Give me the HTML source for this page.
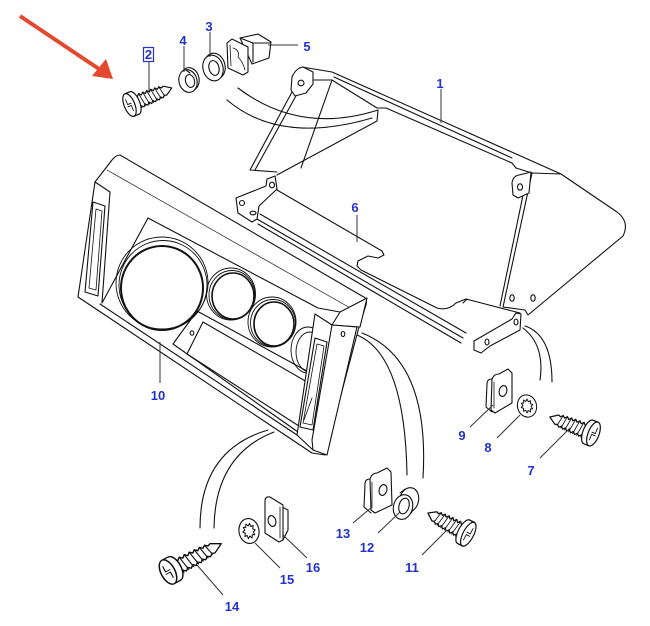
<!DOCTYPE html>
<html><head><meta charset="utf-8">
<style>
html,body{margin:0;padding:0;background:#fff;width:650px;height:626px;overflow:hidden}
svg{display:block}
.lb{font-family:"Liberation Sans",Arial,sans-serif;font-weight:bold;font-size:13px;fill:#2233cc;text-anchor:middle}
</style></head><body>
<svg width="650" height="626" viewBox="0 0 650 626" xmlns="http://www.w3.org/2000/svg">
<defs>
<g id="screw">
  <path d="M5,-4.5 L35,-3.5 L43,0 L35,3.5 L5,4.5 Z" fill="#fff" stroke="none"/>
  <path d="M6,-4.6 L8,-6.6 L10,-4.5 L12,-6.5 L14,-4.4 L16,-6.4 L18,-4.3 L20,-6.3 L22,-4.2 L24,-6.1 L26,-4 L28,-5.8 L30,-3.8 L32,-5.4 L34,-3.5 L36,-4.4 L43,0 L36,4.4 L34,3.5 L32,5.4 L30,3.8 L28,5.8 L26,4 L24,6.1 L22,4.2 L20,6.3 L18,4.3 L16,6.4 L14,4.4 L12,6.5 L10,4.5 L8,6.6 L6,4.6" fill="#fff"/>
  <path d="M8,-6.6 L10,6.5 M12,-6.5 L14,6.4 M16,-6.4 L18,6.3 M20,-6.3 L22,6.1 M24,-6.1 L26,5.8 M28,-5.8 L30,5.4 M32,-5.4 L34,4.4" stroke-width="0.8"/>
  <path d="M0,-11 L5,-11 A5,11 0 0 1 5,11 L0,11" fill="#fff"/>
  <ellipse cx="0" cy="0" rx="5" ry="11" fill="#fff"/>
  <path d="M-1.5,-6 L-1.5,-1 L2,-1 M1.5,6 L1.5,1 L-2,1" stroke-width="0.8"/>
</g>
<g id="star">
  <ellipse cx="0" cy="0" rx="10" ry="12.5" fill="#fff"/>
  <polygon transform="scale(1.05,1.3)" points="6,0 3.8,1.24 4.85,3.53 2.35,3.24 1.85,5.71 0,4 -1.85,5.71 -2.35,3.24 -4.85,3.53 -3.8,1.24 -6,0 -3.8,-1.24 -4.85,-3.53 -2.35,-3.24 -1.85,-5.71 0,-4 1.85,-5.71 2.35,-3.24 4.85,-3.53 3.8,-1.24" stroke-width="0.9"/>
</g>
</defs>

<!-- red arrow -->
<line x1="20" y1="16" x2="99" y2="69" stroke="#e2492f" stroke-width="4"/>
<polygon points="113,79 92,76 106,59" fill="#e2492f"/>

<g fill="none" stroke="#111" stroke-width="1.1" stroke-linejoin="round" stroke-linecap="round">

<!-- ===== bracket 1 ===== -->
<path d="M532,173 L561,174 L617,212 Q630,222 623,236 L528,315 L525,310 L503,307 Z" fill="#fff"/>
<path d="M527,176 L500,306"/>
<path d="M302,67 L332,72 L561,174"/>
<path d="M334,77 L512,158"/>
<path d="M312,80 L332,80 L377,108 L386,108 L512,163 L516,168 L532,173"/>
<path d="M513,195 L512,183 Q513,176 519,175 L531,172 L529,193 L518,198 Z" fill="#fff"/>
<ellipse cx="520" cy="187" rx="2.5" ry="3.2"/>
<ellipse cx="512" cy="298" rx="2.2" ry="3.2"/>
<ellipse cx="533" cy="298" rx="2.2" ry="3.2"/>
<path d="M292,92 L250,170 L277,172"/>
<path d="M297,94 L255,170"/>
<path d="M332,80 L301,168"/>
<path d="M277,175 L377,121 L378,110"/>
<path d="M292,77 Q296,68 303,67 L313,72 L313,84 L306,93 L295,96 L291,90 Z" fill="#fff"/>
<ellipse cx="301" cy="83" rx="3" ry="2.8"/>

<!-- arcs screw 2 -> bracket -->
<path d="M238,88 Q300,135 378,110"/>
<path d="M227,100 Q280,145 372,118"/>

<!-- ===== bracket 6 ===== -->
<path d="M236,198 L266,186 L267,179 L275,176 L277,189 L259,206 L257,219 L252,222 L238,213 Z" fill="#fff"/>
<ellipse cx="242" cy="203" rx="2.5" ry="2.5"/>
<ellipse cx="272" cy="185" rx="2.5" ry="2.8"/>
<ellipse cx="253" cy="213" rx="3" ry="1.8"/>
<path d="M277,190 L382,251 L384,255 L378,258 L368,256 L358,261 L357,266 L361,270 L437,308 Q448,311 456,303 L466,299 L520,313"/>
<path d="M260,214 L466,333"/>
<path d="M257,219 L463,338"/>
<path d="M258,224 L461,343"/>
<path d="M463,303 L467,299"/>
<path d="M474,341 L512,319 L516,313 L521,314 L520,330 L490,346 L481,353 L474,350 Z" fill="#fff"/>
<ellipse cx="516" cy="322" rx="2" ry="3"/>
<ellipse cx="487" cy="342" rx="2" ry="3"/>

<!-- arcs behind panel / to small parts -->
<path d="M268,430 Q200,450 200,528"/>
<path d="M274,432 Q215,455 214,528"/>
<path d="M357,335 Q405,355 407,475"/>
<path d="M362,333 Q430,360 423,478"/>
<path d="M523,328 Q545,345 540,380"/>
<path d="M525,326 Q552,335 552,382"/>

<!-- ===== panel 10 ===== -->
<path d="M120,155 Q116,155 112,160 L95,182 L78,297 L312,453 L325,455 L359,327 L366,305 Q368,298 362,296 Z" fill="#fff"/>
<path d="M95,182 L110,192 L102,303"/>
<path d="M107,170 L352,309" stroke-width="0.7"/>
<path d="M102,303 L148,218 L318,308 L340,312"/>
<path d="M100,304 L297,435"/>
<path d="M93,202 L105,206 L98,296 L85,292 Z"/>
<path d="M96,209 L102,211 L96,290 L89,288 Z" stroke-width="0.8"/>

<!-- gauges -->
<ellipse cx="162" cy="283" rx="46" ry="46" stroke-width="0.9"/>
<ellipse cx="163" cy="285" rx="44" ry="44.5" stroke-width="0.9"/>
<ellipse cx="162" cy="288" rx="41" ry="42" stroke-width="2"/>
<ellipse cx="231" cy="294" rx="24.5" ry="26" stroke-width="0.9"/>
<ellipse cx="232" cy="295" rx="23" ry="24.5" stroke-width="0.9"/>
<ellipse cx="233" cy="296" rx="21" ry="23" stroke-width="1.6"/>
<ellipse cx="272" cy="322" rx="24" ry="25" stroke-width="0.9"/>
<ellipse cx="273" cy="323" rx="22.5" ry="23.5" stroke-width="0.9"/>
<ellipse cx="274" cy="324" rx="20" ry="22" stroke-width="1.6"/>
<ellipse cx="308" cy="350" rx="17" ry="23" stroke-width="0.9"/>
<ellipse cx="310" cy="352" rx="14" ry="20" stroke-width="0.9"/>

<!-- tray -->
<path d="M197,311 L173,344 L298,432" fill="none"/>
<path d="M197,311 L316,376"/>
<path d="M203,322 L187,354 L302,428"/>
<path d="M203,322 L314,386"/>
<ellipse cx="192" cy="333" rx="1.8" ry="2.2"/>

<!-- right end -->
<path d="M340,312 L367,298 L360,327 L332,325 Z" fill="#fff"/>
<path d="M315,314 L332,325 L357,327 L327,455 L313,450 L297,435 Z" fill="#fff"/>
<path d="M332,325 L312,440 L313,450"/>
<path d="M315,338 L327,342 L313,430 L300,427 Z"/>
<path d="M317,344 L324,346 L312,425 L303,423 Z" stroke-width="0.8"/>
<path d="M312,398 L304,420" stroke-width="0.8"/>
<ellipse cx="343" cy="334" rx="1.8" ry="2.5"/>

<!-- ===== small parts top ===== -->
<use href="#screw" transform="translate(129.5,105) rotate(-22) scale(1.06,1.1)"/>
<!-- washer 4 -->
<ellipse cx="190" cy="79" rx="9" ry="11.5" fill="#fff" transform="rotate(-15 190 79)"/>
<ellipse cx="188" cy="81" rx="9" ry="11.5" fill="#fff" transform="rotate(-15 188 81)"/>
<ellipse cx="190" cy="81" rx="4.5" ry="6.5" transform="rotate(-15 190 81)"/>
<path d="M186,70 L190,73"/>
<!-- washer 3 -->
<ellipse cx="215" cy="66" rx="10" ry="13" fill="#fff" transform="rotate(-15 215 66)"/>
<ellipse cx="213" cy="68" rx="10" ry="13" fill="#fff" transform="rotate(-15 213 68)"/>
<ellipse cx="214" cy="68" rx="5" ry="7.5" transform="rotate(-15 214 68)"/>
<!-- part 5 -->
<path d="M240,38 L258,34 L271,42 L269,58 L252,64 Z" fill="#fff"/>
<path d="M240,38 L253,43 L270,43 M253,43 L253,62"/>
<path d="M227,43 L232,39 L248,47 L248,72 L243,75 L228,68 Z" fill="#fff"/>
<path d="M230,45 L231,66 M233,48 Q240,50 238,57 Q243,62 245,70" stroke-width="0.8"/>

<!-- ===== small parts bottom right ===== -->
<!-- clip 9 -->
<path d="M492,379 Q494,374 499,374 L508,369 L512,373 L512,403 L495,413 L491,410 Z" fill="#fff"/>
<path d="M492,379 Q487,379 487,384 L486,407 L492,412"/>
<path d="M494,382 L494,408" stroke-width="0.8"/>
<ellipse cx="503" cy="391" rx="3.8" ry="5.5" transform="rotate(15 503 391)"/>
<use href="#star" transform="translate(527,406) rotate(-15) scale(0.95,0.9)"/>
<use href="#screw" transform="translate(593.5,434) scale(-1,1) rotate(-21.3) scale(1.09,1.15)"/>

<!-- clip 13 -->
<path d="M370,479 Q372,473 377,473 L387,468 L391,472 L392,505 L375,513 L371,510 Z" fill="#fff"/>
<path d="M370,479 Q365,479 365,484 L364,507 L371,513"/>
<path d="M372,482 L372,508" stroke-width="0.8"/>
<ellipse cx="383" cy="490" rx="3.8" ry="5.5" transform="rotate(15 383 490)"/>
<!-- washer 12 -->
<ellipse cx="409" cy="500" rx="9.5" ry="12.5" fill="#fff" transform="rotate(15 409 500)"/>
<path d="M400,493 L405,489 M405,519 L412,512" stroke-width="0.9"/>
<ellipse cx="403" cy="507" rx="9.5" ry="12.5" fill="#fff" transform="rotate(15 403 507)"/>
<ellipse cx="404" cy="506" rx="5" ry="8" transform="rotate(15 404 506)"/>
<use href="#screw" transform="translate(468.3,534.2) scale(-1,1) rotate(-27.7) scale(1.06,1.2)"/>

<!-- clip 16 -->
<path d="M282,507 L288,510 L288,530 L283,540" />
<path d="M265,500 Q266,496 270,497 L283,505 L283,540 L279,542 L265,533 Z" fill="#fff"/>
<path d="M280,507 L280,538" stroke-width="0.8"/>
<ellipse cx="272" cy="521" rx="3.8" ry="5.5" transform="rotate(-15 272 521)"/>
<use href="#star" transform="translate(249,531) rotate(-10) scale(1,1)"/>
<use href="#screw" transform="translate(168,572) rotate(-28) scale(1.4,1.2)"/>
</g>

<!-- leaders -->
<g stroke="#333" stroke-width="1" fill="none">
<path d="M149,62 L149,92"/>
<path d="M184,46 L184,72"/>
<path d="M210,32 L210,57"/>
<path d="M268,45 L298,45"/>
<path d="M441,89 L441,123"/>
<path d="M357,215 L357,242"/>
<path d="M160,342 L160,383"/>
<path d="M470,427 L493,405"/>
<path d="M497,438 L520,415"/>
<path d="M540,458 L570,428"/>
<path d="M353,523 L372,507"/>
<path d="M378,533 L400,512"/>
<path d="M422,555 L447,530"/>
<path d="M307,558 L283,535"/>
<path d="M280,568 L255,543"/>
<path d="M223,595 L197,565"/>
</g>

<!-- labels -->
<rect x="143.5" y="47.5" width="10" height="14" fill="none" stroke="#2233cc" stroke-width="1.2"/>
<text class="lb" x="148.5" y="59">2</text>
<text class="lb" x="183" y="45">4</text>
<text class="lb" x="209" y="31">3</text>
<text class="lb" x="307" y="51">5</text>
<text class="lb" x="440" y="88">1</text>
<text class="lb" x="355" y="212">6</text>
<text class="lb" x="158" y="400">10</text>
<text class="lb" x="462" y="440">9</text>
<text class="lb" x="488" y="452">8</text>
<text class="lb" x="531" y="475">7</text>
<text class="lb" x="343" y="538">13</text>
<text class="lb" x="367" y="552">12</text>
<text class="lb" x="412" y="572">11</text>
<text class="lb" x="313" y="572">16</text>
<text class="lb" x="287" y="584">15</text>
<text class="lb" x="232" y="611">14</text>
</svg>
</body></html>
